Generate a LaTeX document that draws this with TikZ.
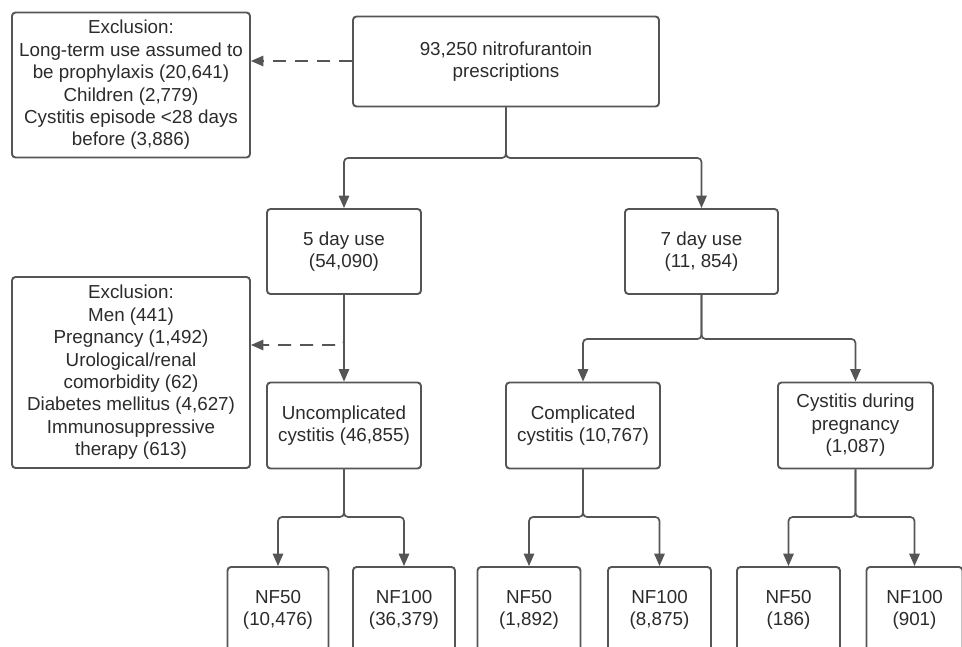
\documentclass[tikz,border=0pt]{standalone}
\usepackage{fontspec}
\setmainfont{Liberation Sans}
\usetikzlibrary{arrows.meta}
\definecolor{edge}{HTML}{555555}
\definecolor{ink}{HTML}{2B2B2B}
\begin{document}
\begin{tikzpicture}[x=1pt,y=-1pt,
  box/.style={draw=edge, line width=1.9pt, rounded corners=3.5pt, text=ink,
    align=center, inner sep=0pt, font=\fontsize{18.8}{22.4}\selectfont},
  flow/.style={draw=edge, line width=1.7pt, rounded corners=4pt,
    -{Triangle[length=12.5pt,width=10.5pt]}},
  skip/.style={flow, dash pattern=on 13pt off 9pt}]
\useasboundingbox (0,0) rectangle (962,647);
\clip (0,0) rectangle (962,647);

% main chain
\node[box, minimum width=306, minimum height=90] (top) at (506,61.5)
  {93,250 nitrofurantoin\\prescriptions};
\node[box, minimum width=238, minimum height=145] (ex1) at (131,85)
  {Exclusion:\\Long-term use assumed to\\be prophylaxis (20,641)\\Children (2,779)\\Cystitis episode <28 days\\before (3,886)};
\node[box, minimum width=154, minimum height=85] (d5) at (344,251.5)
  {5 day use\\(54,090)};
\node[box, minimum width=153, minimum height=85] (d7) at (701.5,251.5)
  {7 day use\\(11, 854)};
\node[box, minimum width=238, minimum height=191] (ex2) at (131,372.5)
  {Exclusion:\\Men (441)\\Pregnancy (1,492)\\Urological/renal\\comorbidity (62)\\Diabetes mellitus (4,627)\\Immunosuppressive\\therapy (613)};
\node[box, minimum width=154, minimum height=86] (unc) at (344,425.5)
  {Uncomplicated\\cystitis (46,855)};
\node[box, minimum width=154, minimum height=86] (comp) at (583,425.5)
  {Complicated\\cystitis (10,767)};
\node[box, minimum width=155, minimum height=86] (preg) at (855.5,425.5)
  {Cystitis during\\pregnancy\\(1,087)};

% dose groups (boxes run past the lower edge)
\node[box, minimum width=101, minimum height=86] (a50) at (278,610) {NF50\\(10,476)};
\node[box, minimum width=102, minimum height=86] (a100) at (404,610) {NF100\\(36,379)};
\node[box, minimum width=103, minimum height=86] (b50) at (529,610) {NF50\\(1,892)};
\node[box, minimum width=103, minimum height=86] (b100) at (659.5,610) {NF100\\(8,875)};
\node[box, minimum width=103, minimum height=86] (c50) at (788.5,610) {NF50\\(186)};
\node[box, minimum width=96, minimum height=86] (c100) at (914.5,610) {NF100\\(901)};

% exclusions
\draw[skip] (top.west |- 0,61) -- (ex1.east |- 0,61);
\coordinate (tap) at (344,330);
\draw[skip] (tap) |- (ex2.east |- 0,345);
\draw[flow] (d5.south) -- (unc.north);

% branches
\draw[flow] (top.south) -- (506,158) -| (d5.north);
\draw[flow] (top.south) -- (506,158) -| (d7.north);
\draw[flow] (d7.south) -- (701.5,339) -| (comp.north);
\draw[flow] (d7.south) -- (701.5,339) -| (preg.north);
\draw[flow] (unc.south) -- (344,517) -| (a50.north);
\draw[flow] (unc.south) -- (344,517) -| (a100.north);
\draw[flow] (comp.south) -- (583,517) -| (b50.north);
\draw[flow] (comp.south) -- (583,517) -| (b100.north);
\draw[flow] (preg.south) -- (855.5,517) -| (c50.north);
\draw[flow] (preg.south) -- (855.5,517) -| (c100.north);
\end{tikzpicture}
\end{document}
